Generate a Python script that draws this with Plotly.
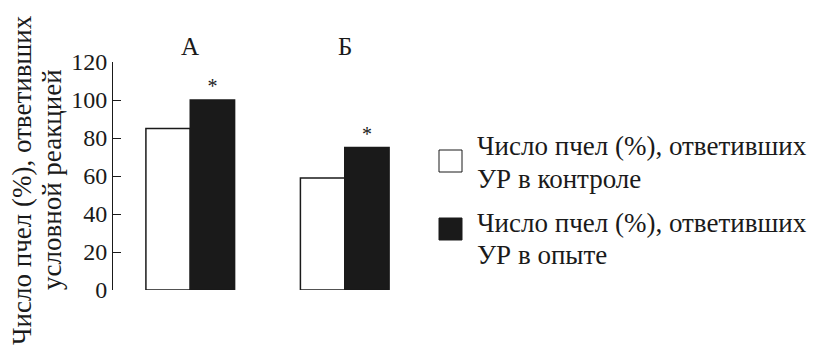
import plotly.graph_objects as go

# Data
groups = ["А", "Б"]
control = [85, 59]      # % bees responding in control
experiment = [100, 75]  # % bees responding in experiment
signif = ["*", "*"]
y_ticks = [0, 20, 40, 60, 80, 100, 120]

legend_control = ["Число пчел (%), ответивших", "УР в контроле"]
legend_experiment = ["Число пчел (%), ответивших", "УР в опыте"]
y_title = ["Число пчел (%), ответивших", "условной реакцией"]

FONT = "Liberation Serif"
INK = "#1a1a1a"
W, H = 816, 348
L, R, T, B = 113, 394, 62, 58
PW, PH = W - L - R, H - T - B


def px_x(px):
    return (px - L) / PW


def px_y(py):
    return (H - B - py) / PH


fig = go.Figure()
fig.add_bar(x=groups, y=control, name="control",
            marker=dict(color="white", line=dict(color=INK, width=1.5)))
fig.add_bar(x=groups, y=experiment, name="experiment", text=signif,
            textposition="outside", cliponaxis=False,
            textfont=dict(family=FONT, size=20, color=INK),
            marker=dict(color=INK, line=dict(color=INK, width=1.5)))

fig.update_layout(
    width=W, height=H,
    margin=dict(l=L, r=R, t=T, b=B, pad=0),
    paper_bgcolor="white", plot_bgcolor="white",
    barmode="group", bargap=0.426, bargroupgap=0,
    showlegend=False,
    font=dict(family=FONT, size=24, color=INK),
    xaxis=dict(range=[-0.5, 1.5], showline=False, ticks="",
               showticklabels=False, showgrid=False, zeroline=False),
    yaxis=dict(range=[0, 120], tickvals=y_ticks, showline=True,
               linecolor=INK, linewidth=1, ticks="inside", ticklen=8,
               tickcolor=INK, showgrid=False, zeroline=False,
               tickfont=dict(family=FONT, size=24, color=INK)),
)

# Group labels above the bars
for g in groups:
    fig.add_annotation(x=g, y=px_y(47), xref="x", yref="paper", text=g,
                       showarrow=False, xanchor="center", yanchor="middle",
                       font=dict(family=FONT, size=25, color=INK))

# Rotated y-axis title, one annotation per line
for cx, line in zip([22, 52], y_title):
    fig.add_annotation(x=px_x(cx), y=px_y(180), xref="paper", yref="paper",
                       text=line, textangle=-90, showarrow=False,
                       xanchor="center", yanchor="middle",
                       font=dict(family=FONT, size=27, color=INK))

# Legend: boxes and two-line labels
for fill, top, lines, centers in [("white", 150, legend_control, [146, 178.5]),
                                  ("#1a1a1a", 218, legend_experiment, [222.5, 255])]:
    fig.add_shape(type="rect", xref="paper", yref="paper",
                  x0=px_x(439), x1=px_x(462), y0=px_y(top + 22), y1=px_y(top),
                  fillcolor=fill, line=dict(color=INK, width=1))
    for cy, line in zip(centers, lines):
        fig.add_annotation(x=px_x(475), y=px_y(cy), xref="paper", yref="paper",
                           text=line, showarrow=False, xanchor="left",
                           yanchor="middle", align="left",
                           font=dict(family=FONT, size=27, color=INK))

fig.write_html("out.html")
